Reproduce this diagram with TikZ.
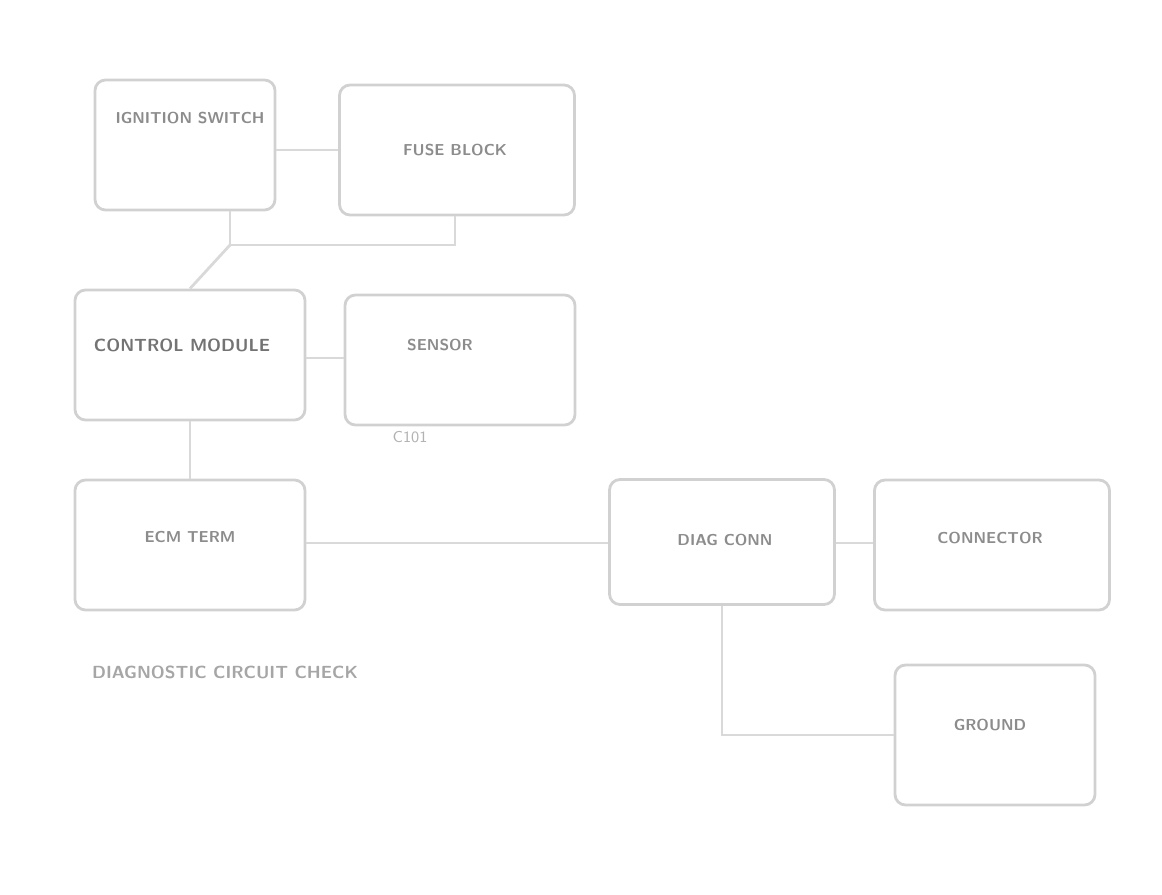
\documentclass[tikz,border=0pt]{standalone}
\usepackage{amsmath}
\usepackage{tikz}

\begin{document}
\begin{tikzpicture}[x=0.02cm,y=-0.02cm]
    \tikzstyle{every node}+=[font=\sffamily\bfseries\small,text=black!45]
    \tikzstyle{unit}=[draw=black!18,line width=1.6pt,rounded corners=6pt,inner sep=0pt]
    \tikzstyle{wire}=[draw=black!15,line width=1.6pt]
    \useasboundingbox (0,0) rectangle (1162,895);
    \node [unit,minimum width=180*0.02cm,minimum height=130*0.02cm] (sw) at (185,145) {};
    \node at (190,118) {IGNITION SWITCH};
    \node [unit,minimum width=235*0.02cm,minimum height=130*0.02cm] (fuse) at (457,150) {};
    \node at (455,150) {FUSE BLOCK};
    \node [unit,minimum width=230*0.02cm,minimum height=130*0.02cm] (ecm) at (190,355) {};
    \node [font=\sffamily\bfseries,text=black!55] at (182,345) {CONTROL MODULE};
    \node [unit,minimum width=230*0.02cm,minimum height=130*0.02cm] (sens) at (460,360) {};
    \node at (440,345) {SENSOR};
    \node [font=\sffamily\small,text=black!30] (spl) at (410,437) {C101};
    \node [unit,minimum width=230*0.02cm,minimum height=130*0.02cm] (term) at (190,545) {};
    \node at (190,537) {ECM TERM};
    \node [unit,minimum width=225*0.02cm,minimum height=125*0.02cm] (diag) at (722,542) {};
    \node at (725,540) {DIAG CONN};
    \node [unit,minimum width=235*0.02cm,minimum height=130*0.02cm] (conn) at (992,545) {};
    \node at (990,538) {CONNECTOR};
    \node [unit,minimum width=200*0.02cm,minimum height=140*0.02cm] (gnd) at (995,735) {};
    \node at (990,725) {GROUND};
    \node [font=\sffamily\bfseries,text=black!35] (cap) at (225,672) {DIAGNOSTIC CIRCUIT CHECK};
    \coordinate (busl) at (230,245);
    \coordinate (busr) at (455,245);
    \draw [wire] (sw.east |- 0,150) -- (fuse.west |- 0,150);
    \draw [wire] (sw.south -| busl) -- (busl) -- (busr) -- (fuse.south -| busr);
    \draw [wire] (busl) -- (ecm.north);
    \draw [wire] (ecm.east |- 0,358) -- (sens.west |- 0,358);
    \draw [wire] (ecm.south) -- (term.north);
    \draw [wire] (term.east |- 0,543) -- (diag.west |- 0,543);
    \draw [wire] (diag.east |- 0,543) -- (conn.west |- 0,543);
    \draw [wire] (diag.south) |- (gnd.west);
\end{tikzpicture}
\end{document}
